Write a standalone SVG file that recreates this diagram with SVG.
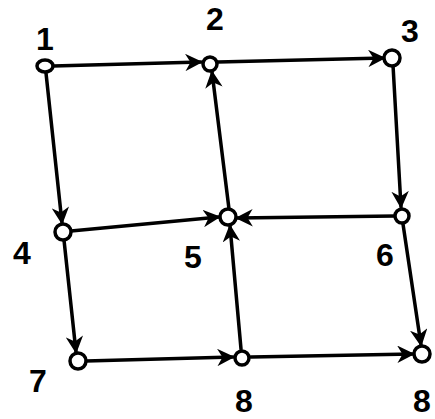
<svg xmlns="http://www.w3.org/2000/svg" width="435" height="419" viewBox="0 0 435 419">
<style>
.e{stroke:#000;stroke-width:3.5;fill:none;stroke-linecap:round;marker-end:url(#ah)}
.n{fill:#fff;stroke:#000;stroke-width:3.5}
.t{font-family:"Liberation Sans",Arial,sans-serif;font-size:32px;font-weight:bold;fill:#000;text-anchor:middle}
</style>
<defs>
<marker id="ah" viewBox="0 0 10 10" refX="9" refY="5" markerWidth="5" markerHeight="5" orient="auto" markerUnits="strokeWidth">
<path d="M0,0 L10,5 L0,10 L3,5 Z" fill="#000"/>
</marker>
</defs>
<rect width="435" height="419" fill="#fff"/>
<g id="edges">
<line class="e" x1="53" y1="66" x2="201" y2="62"/>
<line class="e" x1="218" y1="62" x2="384" y2="58"/>
<line class="e" x1="46" y1="73" x2="62" y2="223"/>
<line class="e" x1="393" y1="65" x2="401" y2="207"/>
<line class="e" x1="71" y1="231" x2="219" y2="217"/>
<line class="e" x1="395" y1="216" x2="237" y2="218"/>
<line class="e" x1="229" y1="209" x2="212" y2="72"/>
<line class="e" x1="241" y1="349" x2="230" y2="226"/>
<line class="e" x1="64" y1="240" x2="76" y2="352"/>
<line class="e" x1="86" y1="361" x2="233" y2="357"/>
<line class="e" x1="251" y1="357" x2="413" y2="354"/>
<line class="e" x1="403" y1="224" x2="421" y2="345"/>
</g>
<g id="n1"><ellipse class="n" cx="45" cy="66" rx="8" ry="6"/><text class="t" x="45" y="50">1</text></g>
<g id="n2"><circle class="n" cx="210" cy="64" r="7"/><text class="t" x="215" y="30">2</text></g>
<g id="n3"><circle class="n" cx="392" cy="58" r="8"/><text class="t" x="410" y="42">3</text></g>
<g id="n4"><circle class="n" cx="63" cy="232" r="8"/><text class="t" x="22" y="264">4</text></g>
<g id="n5"><circle class="n" cx="228" cy="217" r="8"/><text class="t" x="193" y="268">5</text></g>
<g id="n6"><circle class="n" cx="402" cy="216" r="7"/><text class="t" x="385" y="266">6</text></g>
<g id="n7"><circle class="n" cx="78" cy="361" r="8"/><text class="t" x="38" y="392">7</text></g>
<g id="n8"><circle class="n" cx="242" cy="358" r="7"/><text class="t" x="244" y="412">8</text></g>
<g id="n9"><circle class="n" cx="422" cy="354" r="8"/><text class="t" x="422" y="412">8</text></g>
</svg>
